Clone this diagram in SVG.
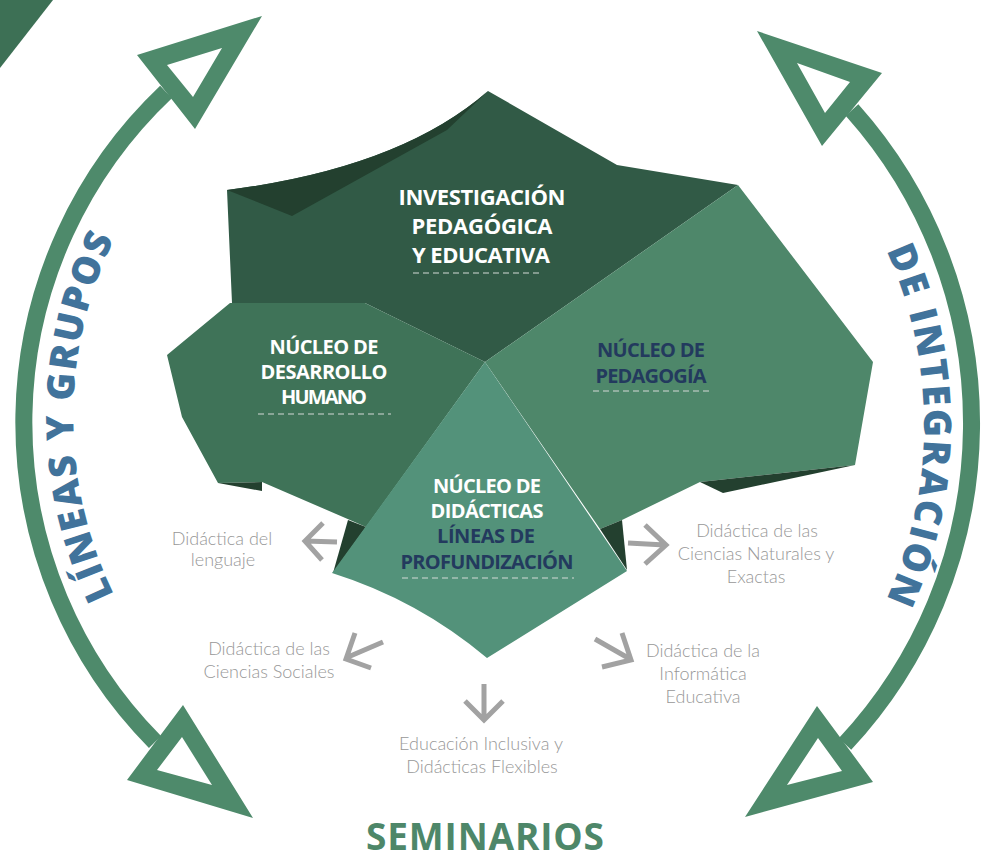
<svg xmlns="http://www.w3.org/2000/svg" width="983" height="859" viewBox="0 0 983 859">
<style>
.hb{font-family:"Open Sans","Liberation Sans",sans-serif;font-weight:700;font-size:20px;text-anchor:middle}
.w{fill:#ffffff}
.nv{fill:#233a5e}
.lbl{font-family:Lato,"Liberation Sans",sans-serif;font-weight:300;font-size:18px;fill:#979797;text-anchor:middle}
.dash{stroke:#d3dad6;stroke-width:1.2;stroke-dasharray:6 4;fill:none}
.ga{fill:none;stroke:#a2a2a2;stroke-width:5;stroke-linejoin:miter;stroke-linecap:butt}
.arc{fill:none;stroke:#4e8a6b;stroke-width:17}
.ah{fill:#4e8a6b;fill-rule:evenodd}
.curve{font-family:"Open Sans","Liberation Sans",sans-serif;font-weight:800;font-size:38px;fill:#41739b}
</style>
<defs>
<path id="pl" d="M218.2,728.0 A406,406 0 0 1 218.2,106.0"/>
<path id="pr" d="M713,59.5 A422,422 0 0 1 713,790.5"/>
</defs>
<polygon points="0,0 53,0 0,68" fill="#3d7055"/>

<g id="connectors">
<path class="arc" d="M166,92 A455,455 0 0 0 155,742"/>
<path class="arc" d="M852,110 A470,470 0 0 1 845,744"/>
<path class="ah" d="M137,55 L262,16 L195,129 Z M167,65 L193,97 L222,48 Z"/>
<path class="ah" d="M757,31 L882,73 L822,146 Z M797,63 L825,113 L850,82 Z"/>
<path class="ah" d="M183,705 L253,818 L127,780 Z M182,737 L157,770 L212,785 Z"/>
<path class="ah" d="M817,706 L873,782 L745,817 Z M818,738 L787,785 L842,771 Z"/>
<path class="ga" d="M337,542 L305,541 M323,523 L305,541 L322,560"/>
<path class="ga" d="M628,543 L665,545 M645,525 L666,545 L645,564"/>
<path class="ga" d="M383,642 L348,657 M355,633 L346,659 L371,668"/>
<path class="ga" d="M595,639 L630,659 M622,633 L631,660 L602,667"/>
<path class="ga" d="M484,684 L484,718 M465,701 L484,720 L503,701"/>
</g>

<g id="n-investigacion">
<path d="M227,190 Q400,168 488,91 L617,165 L738,185 L485,362 L365,303 L232,303 Z" fill="#315a46"/>
<path d="M227,190 Q400,168 488,91 L447,130 L292,216 Z" fill="#23402f"/>
<text class="hb w" style="font-size:22px" x="482" y="205" textLength="167">INVESTIGACIÓN</text>
<text class="hb w" style="font-size:22px" x="482" y="234" textLength="141">PEDAGÓGICA</text>
<text class="hb w" style="font-size:22px" x="481" y="263" textLength="138">Y EDUCATIVA</text>
<line class="dash" x1="413" y1="273" x2="542" y2="273"/>
</g>

<g id="n-desarrollo">
<polygon points="230,303 365,303 485,362 366,527 350,520 262,482 218,483 182,417 167,355" fill="#3f7358"/>
<polygon points="218,483 262,482 262,491" fill="#23402f"/>
<polygon points="348,520 366,527 333,573" fill="#23402f"/>
<text class="hb w" x="324" y="354" textLength="109">NÚCLEO DE</text>
<text class="hb w" x="324" y="379" textLength="127">DESARROLLO</text>
<text class="hb w" x="324" y="404" textLength="86">HUMANO</text>
<line class="dash" x1="258" y1="414" x2="391" y2="414"/>
</g>

<g id="n-pedagogia">
<polygon points="485,362 738,185 873,362 855,465 700,482 622,520 600,529" fill="#4e876a"/>
<polygon points="700,482 855,465 723,493" fill="#23402f"/>
<polygon points="600,529 622,520 627,570" fill="#23402f"/>
<text class="hb nv" x="651" y="357" textLength="108">NÚCLEO DE</text>
<text class="hb nv" x="651" y="383" textLength="111">PEDAGOGÍA</text>
<line class="dash" x1="593" y1="391" x2="712" y2="391"/>
</g>

<g id="n-didacticas">
<path d="M485,362 L627,571 L487,658 Q418,600 332,573 Z" fill="#53927a"/>
<text class="hb w" x="487" y="493" textLength="108">NÚCLEO DE</text>
<text class="hb w" x="487" y="518" textLength="113">DIDÁCTICAS</text>
<text class="hb nv" x="486" y="543" textLength="98">LÍNEAS DE</text>
<text class="hb nv" x="487" y="569" textLength="173">PROFUNDIZACIÓN</text>
<line class="dash" x1="402" y1="578" x2="574" y2="578"/>
</g>

<g id="l-lenguaje">
<text class="lbl" x="222" y="545">Didáctica del</text>
<text class="lbl" x="223" y="566">lenguaje</text>
</g>
<g id="l-naturales">
<text class="lbl" x="757" y="537">Didáctica de las</text>
<text class="lbl" x="756" y="560">Ciencias Naturales y</text>
<text class="lbl" x="756" y="583">Exactas</text>
</g>
<g id="l-sociales">
<text class="lbl" x="269" y="655">Didáctica de las</text>
<text class="lbl" x="269" y="678">Ciencias Sociales</text>
</g>
<g id="l-informatica">
<text class="lbl" x="703" y="657">Didáctica de la</text>
<text class="lbl" x="703" y="680">Informática</text>
<text class="lbl" x="703" y="703">Educativa</text>
</g>
<g id="l-inclusiva">
<text class="lbl" x="481" y="750">Educación Inclusiva y</text>
<text class="lbl" x="482" y="773">Didácticas Flexibles</text>
</g>

<g id="t-lineas">
<text class="curve" text-anchor="middle" textLength="368"><textPath href="#pl" startOffset="50%">LÍNEAS Y GRUPOS</textPath></text>
</g>
<g id="t-integracion">
<text class="curve" text-anchor="middle" textLength="360"><textPath href="#pr" startOffset="50%">DE INTEGRACIÓN</textPath></text>
</g>
<g id="t-seminarios">
<text class="hb" style="font-size:37px;fill:#4e8769" x="485" y="850" textLength="238">SEMINARIOS</text>
</g>
</svg>
